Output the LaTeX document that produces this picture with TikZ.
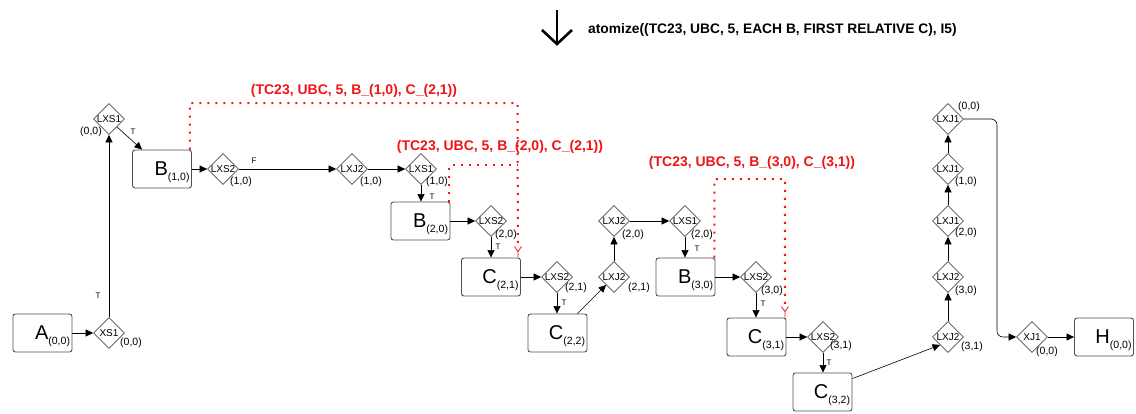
\documentclass[tikz,border=0pt]{standalone}
\usepackage{fontspec}
\setmainfont{Liberation Sans}
\usetikzlibrary{arrows.meta,shapes.geometric,calc}

\definecolor{relred}{RGB}{240,20,20}
\definecolor{outline}{RGB}{80,80,80}

\newcommand\fs[1]{\fontsize{#1}{#1}\selectfont}
% big letter with a lowered index, pushed to the right side of a box
\newcommand\bigsub[2]{\makebox[55pt][r]{{\fs{20}#1}\smash{\raisebox{-5pt}{\fs{10.5}#2}}}}
% diamond text that never widens the diamond
\newcommand\dtx[1]{\makebox[0pt]{#1}}

\tikzset{
  statebox/.style={draw=outline, line width=0.9pt, rounded corners=2.5pt,
    minimum width=59pt, minimum height=38pt, inner sep=0pt},
  gate/.style={diamond, draw=outline, line width=0.7pt, minimum size=31pt,
    inner sep=0pt, font=\fs{10}},
  tag/.style={font=\fs{10.5}, inner sep=0pt, anchor=west},
  tlab/.style={font=\fs{8}, inner sep=0pt},
  flow/.style={draw=black, line width=0.6pt, -{Triangle[length=7.5pt,width=7pt]}},
  rel/.style={draw=relred, line width=2pt, dash pattern=on 2pt off 6pt},
  reltext/.style={text=relred, font=\bfseries\fs{14}, inner sep=0pt},
  yfork/.style={draw=relred, line width=0.8pt},
}

\newcommand\yend[1]{%
  \draw[yfork] ($(#1)+(-3.5,-11)$) -- ($(#1)+(0,-6)$) -- ($(#1)+(3.5,-11)$)
               ($(#1)+(0,-6)$) -- (#1);}

\begin{document}
\begin{tikzpicture}[x=1pt,y=-1pt]
\useasboundingbox (0,0) rectangle (1136,413);

% ---- transform header ----
\coordinate (ha) at (557,10);
\coordinate (hb) at (557,44);
\draw[line width=2.6pt] (ha) -- (hb);
\draw[line width=2.6pt, line join=miter] ($(hb)+(-15,-14)$) -- (hb) -- ($(hb)+(15,-14)$);
\node[anchor=base west, font=\bfseries\fs{13.8}, inner sep=0pt] (cmd) at (588,33)
  {atomize((TC23, UBC, 5, EACH B, FIRST RELATIVE C), I5)};

% ---- boxes ----
\node[statebox] (a)   at (42.5,333) {\bigsub{A}{(0,0)}};
\node[statebox] (b10) at (162,169)  {\bigsub{B}{(1,0)}};
\node[statebox] (b20) at (420.5,221){\bigsub{B}{(2,0)}};
\node[statebox] (c21) at (491,277)  {\bigsub{C}{(2,1)}};
\node[statebox] (c22) at (557.5,333){\bigsub{C}{(2,2)}};
\node[statebox] (b30) at (685.5,277){\bigsub{B}{(3,0)}};
\node[statebox] (c31) at (756.5,337){\bigsub{C}{(3,1)}};
\node[statebox] (c32) at (822.5,392){\bigsub{C}{(3,2)}};
\node[statebox] (h)   at (1104,337) {\bigsub{H}{(0,0)}};

% ---- gates ----
\node[gate] (xs1)   at (109,333) {\dtx{XS1}};
\node[gate] (lxs1a) at (109,119) {\dtx{LXS1}};
\node[gate] (lxs2a) at (223,169) {\dtx{LXS2}};
\node[gate] (lxj2a) at (352,169) {\dtx{LXJ2}};
\node[gate] (lxs1b) at (421,169) {\dtx{LXS1}};
\node[gate] (lxs2b) at (491,221) {\dtx{LXS2}};
\node[gate] (lxs2c) at (557,277) {\dtx{LXS2}};
\node[gate] (lxj2b) at (614,277) {\dtx{LXJ2}};
\node[gate] (lxj2c) at (614,221) {\dtx{LXJ2}};
\node[gate] (lxs1c) at (685,221) {\dtx{LXS1}};
\node[gate] (lxs2d) at (756,277) {\dtx{LXS2}};
\node[gate] (lxs2e) at (823,337) {\dtx{LXS2}};
\node[gate] (lxj2d) at (948,337) {\dtx{LXJ2}};
\node[gate] (lxj2e) at (948,277) {\dtx{LXJ2}};
\node[gate] (lxj1a) at (948,221) {\dtx{LXJ1}};
\node[gate] (lxj1b) at (948,169) {\dtx{LXJ1}};
\node[gate] (lxj1c) at (948,119) {\dtx{LXJ1}};
\node[gate] (xj1)   at (1032,337){\dtx{XJ1}};

% ---- gate indices ----
\node[tag] (xs1-i)   at ($(xs1)+(11,10)$)   {(0,0)};
\node[tag, anchor=east] (lxs1a-i) at ($(lxs1a)+(-7,13)$) {(0,0)};
\node[tag] (lxs2a-i) at ($(lxs2a)+(7,13)$)  {(1,0)};
\node[tag] (lxj2a-i) at ($(lxj2a)+(8,13)$)  {(1,0)};
\node[tag] (lxs1b-i) at ($(lxs1b)+(5,13)$)  {(1,0)};
\node[tag] (lxs2b-i) at ($(lxs2b)+(4,14)$)  {(2,0)};
\node[tag] (lxs2c-i) at ($(lxs2c)+(8,11)$)  {(2,1)};
\node[tag] (lxj2b-i) at ($(lxj2b)+(14,11)$) {(2,1)};
\node[tag] (lxj2c-i) at ($(lxj2c)+(8,14)$)  {(2,0)};
\node[tag] (lxs1c-i) at ($(lxs1c)+(6,14)$)  {(2,0)};
\node[tag] (lxs2d-i) at ($(lxs2d)+(5,14)$)  {(3,0)};
\node[tag] (lxs2e-i) at ($(lxs2e)+(7,9)$)   {(3,1)};
\node[tag] (lxj2d-i) at ($(lxj2d)+(13,10)$) {(3,1)};
\node[tag] (lxj2e-i) at ($(lxj2e)+(7,14)$)  {(3,0)};
\node[tag] (lxj1a-i) at ($(lxj1a)+(7,12)$)  {(2,0)};
\node[tag] (lxj1b-i) at ($(lxj1b)+(7,13)$)  {(1,0)};
\node[tag] (lxj1c-i) at ($(lxj1c)+(10,-12)$){(0,0)};
\node[tag] (xj1-i)   at ($(xj1)+(4,15)$)    {(0,0)};

% ---- control flow ----
\draw[flow] (a.east) -- (xs1.west);
\draw[flow] (xs1.north) -- (lxs1a.south);
\node[tlab] (t1) at (98,296) {T};
\draw[flow] (lxs1a.south east) -- ($(b10.north west)+(10,0)$);
\node[tlab] (t2) at (133,132) {T};
\draw[flow] (b10.east) -- (lxs2a.west);
\draw[flow] (lxs2a.east) -- (lxj2a.west);
\node[tlab] (f1) at (254,161) {F};
\draw[flow] (lxj2a.east) -- (lxs1b.west);
\draw[flow] (lxs1b.south) -- (lxs1b.south |- b20.north);
\node[tlab] (t3) at (432,197) {T};
\draw[flow] (b20.east) -- (lxs2b.west);
\draw[flow] (lxs2b.south) -- (lxs2b.south |- c21.north);
\node[tlab] (t4) at (498,247) {T};
\draw[flow] (c21.east) -- (lxs2c.west);
\draw[flow] (lxs2c.south) -- (lxs2c.south |- c22.north);
\node[tlab] (t5) at (564,303) {T};
\draw[flow] ($(c22.north east)+(-10,0)$) -- (lxj2b.south west);
\draw[flow] (lxj2b.north) -- (lxj2c.south);
\draw[flow] (lxj2c.east) -- (lxs1c.west);
\draw[flow] (lxs1c.south) -- (lxs1c.south |- b30.north);
\node[tlab] (t6) at (697,249) {T};
\draw[flow] (b30.east) -- (lxs2d.west);
\draw[flow] (lxs2d.south) -- (lxs2d.south |- c31.north);
\node[tlab] (t7) at (763,304) {T};
\draw[flow] (c31.east) -- (lxs2e.west);
\draw[flow] (lxs2e.south) -- (lxs2e.south |- c32.north);
\node[tlab] (t8) at (829,363) {T};
\draw[flow] ($(c32.north east)+(0,6)$) -- (lxj2d.south west);
\draw[flow] (lxj2d.north) -- (lxj2e.south);
\draw[flow] (lxj2e.north) -- (lxj1a.south);
\draw[flow] (lxj1a.north) -- (lxj1b.south);
\draw[flow] (lxj1b.north) -- (lxj1c.south);
\coordinate (drop) at (997,200);
\draw[flow, rounded corners=6pt] (lxj1c.east) -| (drop) |- (xj1.west);
\draw[flow] (xj1.east) -- (h.west);

% ---- relative-pair links ----
\node[reltext] (r1) at (354,91)  {(TC23, UBC, 5, B\_(1,0), C\_(2,1))};
\node[reltext] (r2) at (500,147) {(TC23, UBC, 5, B\_(2,0), C\_(2,1))};
\node[reltext] (r3) at (752,163) {(TC23, UBC, 5, B\_(3,0), C\_(3,1))};

\coordinate (c21in) at ($(c21.north east)+(-3,0)$);
\coordinate (c31in) at ($(c31.north east)+(-1.5,0)$);
\coordinate (r1top) at (517.5,103);
\coordinate (join2) at (517.5,165);
\coordinate (r3top) at (785,179);

\draw[rel] ($(b10.north east)+(-2,0)$) |- (r1top) -- ($(c21in)+(0,-10)$);
\draw[rel] ($(b20.north east)+(-1,0)$) |- (join2);
\draw[rel] ($(b30.north east)+(-1,0)$) |- (r3top) -- ($(c31in)+(0,-10)$);
\yend{c21in}
\yend{c31in}
\end{tikzpicture}
\end{document}
